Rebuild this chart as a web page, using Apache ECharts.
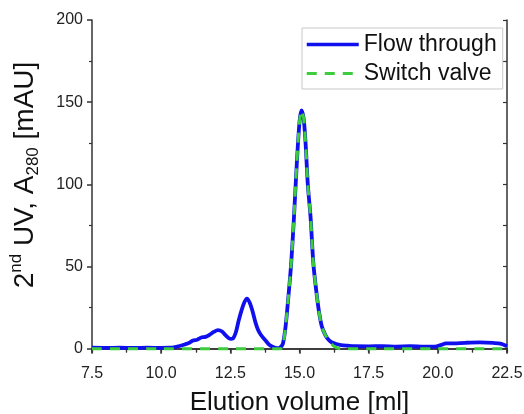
<!DOCTYPE html>
<html>
<head>
<meta charset="utf-8">
<script src="https://cdn.jsdelivr.net/npm/echarts@6/dist/echarts.min.js"></script>
<style>
html,body{margin:0;padding:0;background:#fff;}
#chart{width:524px;height:414px;}
</style>
</head>
<body>
<div id="chart"></div>
<script>
var flowX = [7.5, 8.0, 8.5, 9.0, 9.5, 10.0, 10.3, 10.5, 10.7, 10.85, 11.0, 11.15, 11.3, 11.45, 11.6, 11.75, 11.9, 12.05, 12.2, 12.35, 12.5, 12.6, 12.7, 12.8, 12.9, 13.0, 13.1, 13.2, 13.3, 13.4, 13.5, 13.6, 13.75, 13.9, 14.05, 14.2, 14.3, 14.4, 14.5, 14.6, 14.7, 14.8, 14.9, 15.0, 15.07, 15.15, 15.22, 15.3, 15.4, 15.5, 15.6, 15.7, 15.8, 15.9, 16.0, 16.15, 16.3, 16.5, 16.75, 17.0, 17.5, 18.0, 18.5, 19.0, 19.5, 19.9, 20.1, 20.3, 20.6, 21.0, 21.5, 22.0, 22.3, 22.5];
var flowY = [0.6, 0.5, 0.6, 0.5, 0.6, 0.5, 0.6, 1.0, 1.8, 2.6, 3.5, 5.0, 5.5, 6.8, 7.2, 8.5, 10.2, 11.3, 10.5, 7.8, 6.0, 6.3, 10, 17, 23, 28, 30.5, 28, 23, 16.5, 11.5, 8.5, 5.5, 2.5, 1.0, 0.4, 0.8, 3.0, 14, 32, 52, 80, 112, 138, 145, 140, 125, 100, 80, 52, 36, 23, 14, 9.5, 6.5, 4, 3, 2.2, 1.8, 1.5, 1.4, 1.6, 1.3, 1.5, 1.2, 1.3, 2.2, 3.2, 3.3, 3.6, 3.8, 3.5, 3.0, 1.5];
var valveX = [7.5, 10.0, 12.5, 14.3, 14.4, 14.5, 14.6, 14.7, 14.8, 14.9, 15.0, 15.07, 15.15, 15.22, 15.3, 15.4, 15.5, 15.6, 15.7, 15.8, 15.9, 16.0, 16.15, 16.3, 16.5, 18.0, 20.0, 22.5];
var valveY = [0, 0, 0, 0, 2, 14, 32, 52, 80, 112, 138, 145, 140, 125, 100, 80, 52, 36, 23, 14, 9.5, 6.5, 3, 1, 0, 0, 0, 0];
var xTicks = [7.5, 10.0, 12.5, 15.0, 17.5, 20.0, 22.5];
var yLabels = [0, 50, 100, 150, 200];
var yMinor = [25, 75, 125, 175];
var yAllTicks = [0, 25, 50, 75, 100, 125, 150, 175, 200];
var seriesNames = ['Flow through', 'Switch valve'];

function pairs(xs, ys) { return xs.map(function (x, i) { return [x, ys[i]]; }); }

var FONT = 'Liberation Sans, Arial, sans-serif';
var AX = '#333';
var BLUE = '#1010ee';
var GREEN = '#3ccc3c';
var chart = echarts.init(document.getElementById('chart'), null, {renderer: 'canvas'});
chart.setOption({
  animation: false,
  backgroundColor: '#fff',
  textStyle: {fontFamily: FONT},
  grid: {left: 92, right: 17, top: 20, bottom: 62, outerBoundsMode: 'none', containLabel: false},
  legend: {
    orient: 'vertical', left: 302, top: 28,
    padding: [5, 6, 4, 3], itemGap: 6,
    itemWidth: 52, itemHeight: 22,
    borderColor: '#c8c8c8', borderWidth: 1,
    itemStyle: {opacity: 0},
    textStyle: {fontSize: 23, color: '#111', fontFamily: FONT},
    data: [
      {name: seriesNames[0], lineStyle: {width: 3.5, color: BLUE}},
      {name: seriesNames[1], lineStyle: {width: 3, color: GREEN, type: [10, 8]}}
    ]
  },
  xAxis: [{
    type: 'value', min: xTicks[0], max: xTicks[xTicks.length - 1], interval: 2.5, position: 'bottom',
    axisLine: {show: true, lineStyle: {color: AX, width: 1.5}},
    axisTick: {show: true, length: 5, lineStyle: {color: AX, width: 1.5}},
    minorTick: {show: true, splitNumber: 2, length: 3, lineStyle: {color: AX, width: 1.2}},
    splitLine: {show: false},
    axisLabel: {fontSize: 16, color: '#222', margin: 14, formatter: function (v) { return v.toFixed(1); }},
    name: 'Elution volume [ml]', nameLocation: 'middle', nameGap: 38,
    nameTextStyle: {fontSize: 26, color: '#111'}
  }, {
    type: 'value', min: xTicks[0], max: xTicks[xTicks.length - 1], interval: 2.5, position: 'top',
    axisLine: {show: true, lineStyle: {color: AX, width: 1.5}},
    axisTick: {show: true, inside: true, length: 4, lineStyle: {color: AX, width: 1.2}},
    minorTick: {show: true, splitNumber: 2, length: 4, lineStyle: {color: AX, width: 1.2}},
    splitLine: {show: false}, axisLabel: {show: false}
  }],
  yAxis: [{
    type: 'value', min: -2, max: 200, position: 'left',
    axisLine: {show: true, lineStyle: {color: AX, width: 1.5}},
    axisTick: {show: true, length: 5, customValues: yLabels, lineStyle: {color: AX, width: 1.5}},
    axisLabel: {customValues: yLabels, fontSize: 16, color: '#222', margin: 9},
    splitLine: {show: false},
    name: '{a|2}{sup|nd}{a| UV, A}{sub|280}{a| [mAU]}',
    nameLocation: 'middle', nameGap: 50,
    nameTextStyle: {
      padding: [0, 0, 0, 22],
      rich: {
        a: {fontSize: 28, color: '#111', lineHeight: 34, verticalAlign: 'middle', fontFamily: FONT},
        sup: {fontSize: 17, color: '#111', lineHeight: 17, verticalAlign: 'top', fontFamily: FONT},
        sub: {fontSize: 17, color: '#111', lineHeight: 17, verticalAlign: 'bottom', fontFamily: FONT}
      }
    }
  }, {
    type: 'value', min: -2, max: 200, position: 'left',
    axisLine: {show: false},
    axisTick: {show: true, length: 3, customValues: yMinor, lineStyle: {color: AX, width: 1.2}},
    axisLabel: {show: false}, splitLine: {show: false}
  }, {
    type: 'value', min: -2, max: 200, position: 'right',
    axisLine: {show: true, lineStyle: {color: AX, width: 1.5}},
    axisTick: {show: true, inside: true, length: 4, customValues: yAllTicks, lineStyle: {color: AX, width: 1.2}},
    axisLabel: {show: false}, splitLine: {show: false}
  }],
  series: [{
    name: seriesNames[0], type: 'line', xAxisIndex: 0, yAxisIndex: 0,
    data: pairs(flowX, flowY), showSymbol: false, symbol: 'none', smooth: 0.3,
    lineStyle: {color: BLUE, width: 3.8}, itemStyle: {color: BLUE}
  }, {
    name: seriesNames[1], type: 'line', xAxisIndex: 0, yAxisIndex: 0,
    data: pairs(valveX, valveY), showSymbol: false, symbol: 'none', smooth: 0.3,
    lineStyle: {color: GREEN, width: 3, type: [10, 8]}, itemStyle: {color: GREEN}
  }]
});
</script>
</body>
</html>
